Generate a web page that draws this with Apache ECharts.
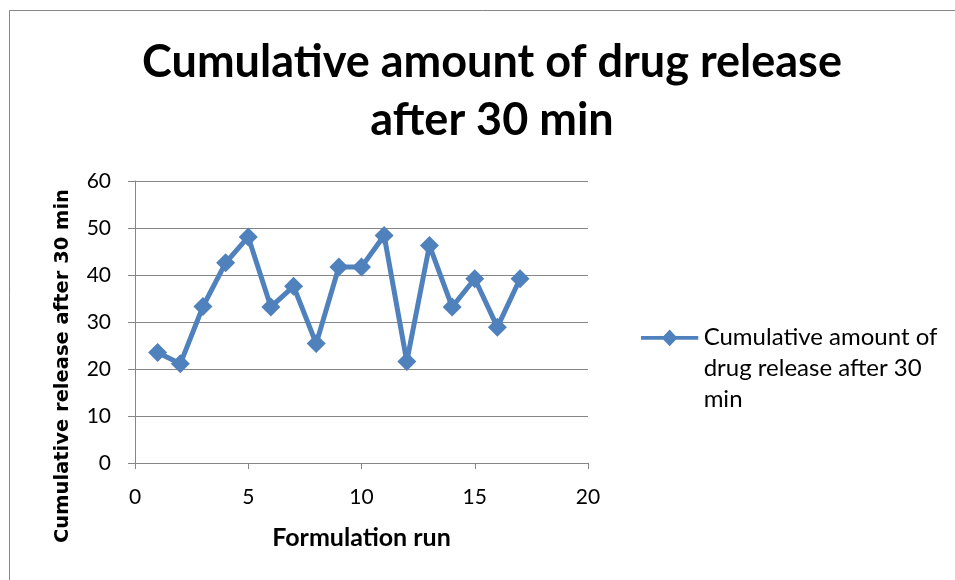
<!DOCTYPE html>
<html>
<head>
<meta charset="utf-8">
<script src="https://cdn.jsdelivr.net/npm/echarts@6/dist/echarts.min.js"></script>
<style>html,body{margin:0;padding:0;background:#fff}#c{width:955px;height:580px}</style>
</head>
<body>
<div id="c"></div>
<script>
const runs = [1,2,3,4,5,6,7,8,9,10,11,12,13,14,15,16,17];
const release = [23.5,21.1,33.3,42.6,48.1,33.2,37.6,25.4,41.7,41.7,48.4,21.6,46.3,33.2,39.2,28.9,39.2];
const seriesName = 'Cumulative amount of drug release after 30 min';
const legendLines = ['Cumulative amount of','drug release after 30','min'];
const titleText = 'Cumulative amount of drug release\nafter 30 min';
const xName = 'Formulation run';
const yName = 'Cumulative release after 30 min';

const chart = echarts.init(document.getElementById('c'), null, {renderer:'canvas'});
const axisGray = '#868686';
const blue = '#4F81BD';
chart.setOption({
  animation:false,
  backgroundColor:'#fff',
  graphic:[
    {type:'line', shape:{x1:9.5,y1:10.5,x2:955,y2:10.5}, style:{stroke:axisGray,lineWidth:1}},
    {type:'line', shape:{x1:9.5,y1:10.5,x2:9.5,y2:580}, style:{stroke:axisGray,lineWidth:1}}
  ],
  title:{
    text:titleText, left:487, top:28, textAlign:'center',
    textStyle:{fontFamily:'Lato', fontWeight:'bold', fontSize:45, color:'#000', lineHeight:58}
  },
  grid:{left:135, right:955-588, top:181, bottom:580-463, containLabel:false},
  legend:{
    show:true, left:636, top:317, orient:'vertical',
    itemWidth:58, itemHeight:78, itemGap:0,
    icon:'path://M0,5.5 L58,5.5 L58,9.5 L0,9.5 Z M29,-1 L37,7.5 L29,16 L21,7.5 Z M0,78 L0.05,78 L0.05,77.95 Z',
    data:[{name:seriesName}],
    formatter:function(){return legendLines.join('\n');},
    textStyle:{fontFamily:'Lato', fontSize:24, color:'#000', lineHeight:31}
  },
  xAxis:{
    type:'value', min:0, max:20, interval:5,
    name:xName, nameLocation:'middle', nameGap:62,
    nameTextStyle:{fontFamily:'Lato', fontWeight:'bold', fontSize:25, color:'#000'},
    axisLine:{show:true, lineStyle:{color:axisGray, width:1}},
    axisTick:{show:true, length:6, lineStyle:{color:axisGray}},
    axisLabel:{fontFamily:'Lato', fontSize:21, color:'#000', margin:24},
    splitLine:{show:false}
  },
  yAxis:{
    type:'value', min:0, max:60, interval:10,
    name:yName, nameLocation:'middle', nameGap:62,
    nameTextStyle:{fontFamily:'DejaVu Sans', fontWeight:'bold', fontSize:19.5, color:'#000', padding:[0,88,0,0]},
    axisLine:{show:true, lineStyle:{color:axisGray, width:1}},
    axisTick:{show:true, length:7, lineStyle:{color:axisGray}},
    axisLabel:{fontFamily:'Lato', fontSize:21, color:'#000', margin:24},
    splitLine:{show:true, lineStyle:{color:axisGray, width:1}}
  },
  series:[{
    name:seriesName, type:'line',
    data:runs.map((r,i)=>[r,release[i]]),
    symbol:'diamond', symbolSize:19,
    lineStyle:{color:blue, width:5},
    itemStyle:{color:blue}
  }]
});
</script>
</body>
</html>
